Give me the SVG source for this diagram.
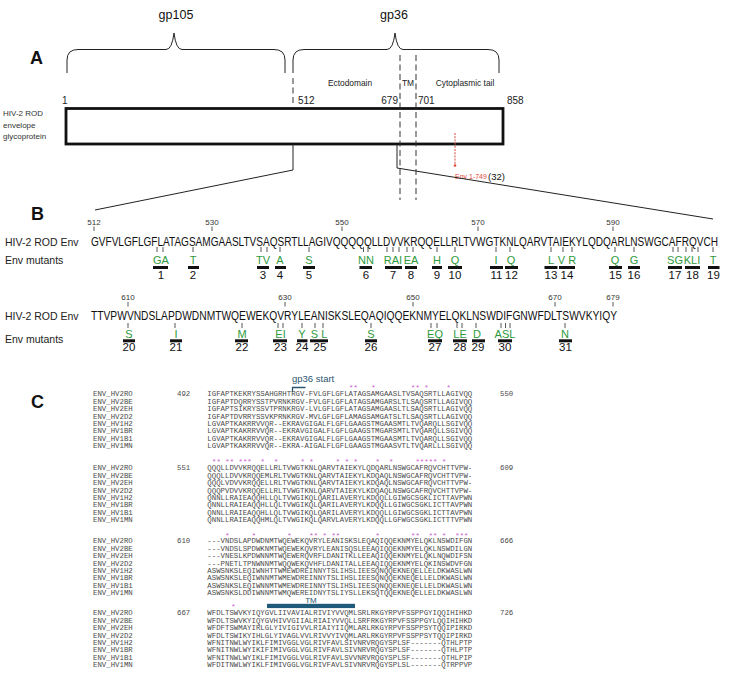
<svg xmlns="http://www.w3.org/2000/svg" width="731" height="675" viewBox="0 0 731 675">
<style>
.sans{font-family:"Liberation Sans",Arial,sans-serif}
.bold{font-family:"Liberation Sans",Arial,sans-serif;font-weight:bold;font-size:18px;fill:#111}
.gp{font-family:"Liberation Sans",Arial,sans-serif;font-size:12.5px;fill:#111}
.dom{font-family:"Liberation Sans",Arial,sans-serif;font-size:8.4px;fill:#222}
.pos{font-family:"Liberation Sans",Arial,sans-serif;font-size:10px;fill:#222}
.lbl{font-family:"Liberation Sans",Arial,sans-serif;font-size:8px;fill:#333}
.rowlbl{font-family:"Liberation Sans",Arial,sans-serif;font-size:10.5px;fill:#222}
.seqB{font-family:"Liberation Sans Narrow","Liberation Sans",Arial,sans-serif;font-size:12.5px;fill:#111}
.tnum{font-family:"Liberation Sans",Arial,sans-serif;font-size:8px;fill:#333;text-anchor:middle}
.mut{font-family:"Liberation Sans",Arial,sans-serif;font-size:11px;fill:#2f9a3c;text-anchor:middle}
.mnum{font-family:"Liberation Sans",Arial,sans-serif;font-size:11.5px;fill:#111;text-anchor:middle}
.tick{stroke:#444;stroke-width:0.9}
.bar{fill:#111}
.seq{font-family:"Liberation Mono","Courier New",monospace;font-size:7.37px;fill:#4a4a4a}
.ast{font-family:"Liberation Mono","Courier New",monospace;font-size:8px;fill:#cc5fcc}
.dash{stroke:#333;stroke-width:1;stroke-dasharray:6,3.5;fill:none}
.line{stroke:#222;stroke-width:1;fill:none}
</style>

<!-- PANEL A -->
<g id="panel-a">
  <text class="bold" x="30" y="64">A</text>
  <g id="gp105">
    <text class="gp" x="176" y="19" text-anchor="middle">gp105</text>
    <path class="line" stroke-width="1.3" d="M67 73 L67 60 Q67 49.5 78 49.5 L166 49.5 Q172 49.5 174 33 Q176 49.5 182 49.5 L274 49.5 Q285 49.5 285 60 L285 73"/>
  </g>
  <g id="gp36">
    <text class="gp" x="394" y="19" text-anchor="middle">gp36</text>
    <path class="line" stroke-width="1.3" d="M293 73 L293 60 Q293 49.5 304 49.5 L387 49.5 Q393 49.5 395 33 Q397 49.5 403 49.5 L488 49.5 Q499 49.5 499 60 L499 73"/>
  </g>
  <text class="dom" x="350" y="86" text-anchor="middle">Ectodomain</text>
  <text class="dom" x="408" y="86" text-anchor="middle">TM</text>
  <text class="dom" x="465" y="86" text-anchor="middle">Cytoplasmic tail</text>
  <line class="dash" x1="293" y1="78" x2="293" y2="106"/>
  <text class="pos" x="62" y="104">1</text>
  <text class="pos" x="298" y="104">512</text>
  <text class="pos" x="398" y="104" text-anchor="end">679</text>
  <text class="pos" x="418" y="104">701</text>
  <text class="pos" x="507" y="104">858</text>
  <g id="env-bar">
    <rect x="66" y="108.5" width="437" height="35.5" fill="#fff" stroke="#111" stroke-width="2.8"/>
  </g>
  <line class="dash" x1="400" y1="55" x2="400" y2="200"/>
  <line class="dash" x1="416" y1="55" x2="416" y2="200"/>
  <text class="lbl" x="3" y="116">HIV-2 ROD</text>
  <text class="lbl" x="3" y="127.5">envelope</text>
  <text class="lbl" x="3" y="139">glycoprotein</text>
  <g id="truncation">
    <line x1="455" y1="133" x2="455" y2="164" stroke="#e0483c" stroke-width="1" stroke-dasharray="2,1.2"/>
    <circle cx="455" cy="165.5" r="1.3" fill="#e0483c"/>
    <text class="sans" x="455" y="179" font-size="7px" fill="#e0483c">Env 1-749</text>
    <text class="sans" x="488" y="179.5" font-size="9.5px" fill="#111">(32)</text>
  </g>
</g>

<!-- CONNECTORS (zoom lines) -->
<g id="connectors">
  <polyline class="line" points="293,144 293,170 95,210"/>
  <polyline class="line" points="397,144 397,168 713,219"/>
</g>

<!-- PANEL B -->
<g id="panel-b">
  <text class="bold" x="31" y="220">B</text>
  <text class="rowlbl" x="5" y="245.5">HIV-2 ROD Env</text>
  <text class="rowlbl" x="5" y="264">Env mutants</text>
  <text class="rowlbl" x="5" y="320">HIV-2 ROD Env</text>
  <text class="rowlbl" x="5" y="343">Env mutants</text>

  <g id="seq-row1">
    <text class="tnum" x="94" y="224.5">512</text>
    <text class="tnum" x="212" y="224.5">530</text>
    <text class="tnum" x="342" y="224.5">550</text>
    <text class="tnum" x="478" y="224.5">570</text>
    <text class="tnum" x="613" y="224.5">590</text>
    <path class="tick" d="M94 226.5V231M212 226.5V231M342 226.5V231M478 226.5V231M613 226.5V231"/>
    <text class="seqB" x="91" y="245.7" textLength="627" lengthAdjust="spacingAndGlyphs">GVFVLGFLGFLATAGSAMGAASLTVSAQSRTLLAGIVQQQQQLLDVVKRQQELLRLTVWGTKNLQARVTAIEKYLQDQARLNSWGCAFRQVCH</text>
  </g>
  <g id="seq-row2">
    <text class="tnum" x="128" y="300.2">610</text>
    <text class="tnum" x="285" y="300.2">630</text>
    <text class="tnum" x="413" y="300.2">650</text>
    <text class="tnum" x="555" y="300.2">670</text>
    <text class="tnum" x="613" y="300.2">679</text>
    <path class="tick" d="M128 302V306.5M285 302V306.5M413 302V306.5M555 302V306.5M613 302V306.5"/>
    <text class="seqB" x="91" y="320" textLength="526" lengthAdjust="spacingAndGlyphs">TTVPWVNDSLAPDWDNMTWQEWEKQVRYLEANISKSLEQAQIQQEKNMYELQKLNSWDIFGNWFDLTSWVKYIQY</text>
  </g>

  <g id="mutants-row1">
    <path class="tick" d="M157 247V252M163 247V252M193 247V252M261 247V252M267 247V252M280 247V252M309 247V252M363.5 247V252M368 247V252M387 247V252M393 247V252M399 247V252M407 247V252M413 247V252M437 247V252M455 247V252M496 247V252M510 247V252M551 247V252M563 247V252M572 247V252M615 247V252M634 247V252M673 247V252M678 247V252M686 247V252M692 247V252M698 247V252M713 247V252"/>
    <g id="mut-1"><text class="mut" x="161" y="264.3">GA</text><rect class="bar" x="153" y="266" width="15" height="3"/><text class="mnum" x="161" y="279">1</text></g>
    <g id="mut-2"><text class="mut" x="193" y="264.3">T</text><rect class="bar" x="188" y="266" width="11" height="3"/><text class="mnum" x="193" y="279">2</text></g>
    <g id="mut-3"><text class="mut" x="263" y="264.3">TV</text><rect class="bar" x="257" y="266" width="12" height="3"/><text class="mnum" x="263" y="279">3</text></g>
    <g id="mut-4"><text class="mut" x="280" y="264.3">A</text><rect class="bar" x="275" y="266" width="11" height="3"/><text class="mnum" x="280" y="279">4</text></g>
    <g id="mut-5"><text class="mut" x="309" y="264.3">S</text><rect class="bar" x="303" y="266" width="12" height="3"/><text class="mnum" x="309" y="279">5</text></g>
    <g id="mut-6"><text class="mut" x="366" y="264.3">NN</text><rect class="bar" x="359.5" y="266" width="12.5" height="3"/><text class="mnum" x="366" y="279">6</text></g>
    <g id="mut-7"><text class="mut" x="393" y="264.3">RAI</text><rect class="bar" x="385" y="266" width="17" height="3"/><text class="mnum" x="393" y="279">7</text></g>
    <g id="mut-8"><text class="mut" x="411" y="264.3">EA</text><rect class="bar" x="405" y="266" width="12" height="3"/><text class="mnum" x="411" y="279">8</text></g>
    <g id="mut-9"><text class="mut" x="437" y="264.3">H</text><rect class="bar" x="432" y="266" width="10" height="3"/><text class="mnum" x="437" y="279">9</text></g>
    <g id="mut-10"><text class="mut" x="455" y="264.3">Q</text><rect class="bar" x="448" y="266" width="14" height="3"/><text class="mnum" x="455" y="279">10</text></g>
    <g id="mut-11"><text class="mut" x="496" y="264.3">I</text><rect class="bar" x="490" y="266" width="13" height="3"/><text class="mnum" x="496.5" y="279">11</text></g>
    <g id="mut-12"><text class="mut" x="511" y="264.3">Q</text><rect class="bar" x="505" y="266" width="13" height="3"/><text class="mnum" x="511.5" y="279">12</text></g>
    <g id="mut-13"><text class="mut" x="551" y="264.3">L</text><rect class="bar" x="544.5" y="266" width="13" height="3"/><text class="mnum" x="551" y="279">13</text></g>
    <g id="mut-14"><text class="mut" x="567" y="264.3">V R</text><rect class="bar" x="559" y="266" width="16" height="3"/><text class="mnum" x="567" y="279">14</text></g>
    <g id="mut-15"><text class="mut" x="615" y="264.3">Q</text><rect class="bar" x="609" y="266" width="13" height="3"/><text class="mnum" x="615.5" y="279">15</text></g>
    <g id="mut-16"><text class="mut" x="634" y="264.3">G</text><rect class="bar" x="628" y="266" width="12" height="3"/><text class="mnum" x="634" y="279">16</text></g>
    <g id="mut-17"><text class="mut" x="675" y="264.3">SG</text><rect class="bar" x="668" y="266" width="14" height="3"/><text class="mnum" x="675" y="279">17</text></g>
    <g id="mut-18"><text class="mut" x="692" y="264.3">KLI</text><rect class="bar" x="685" y="266" width="15" height="3"/><text class="mnum" x="692.5" y="279">18</text></g>
    <g id="mut-19"><text class="mut" x="713" y="264.3">T</text><rect class="bar" x="708" y="266" width="11.5" height="3"/><text class="mnum" x="713.5" y="279">19</text></g>
  </g>

  <g id="mutants-row2">
    <path class="tick" d="M128 323V328M175 323V328M242 323V328M278 323V328M283 323V328M302 323V328M315 323V328M323 323V328M371 323V328M431 323V328M437 323V328M457 323V328M462 323V328M476 323V328M501 323V328M505.5 323V328M510 323V328M565 323V328"/>
    <g id="mut-20"><text class="mut" x="129" y="338.3">S</text><rect class="bar" x="123" y="339.3" width="12" height="3"/><text class="mnum" x="129" y="351">20</text></g>
    <g id="mut-21"><text class="mut" x="176" y="338.3">I</text><rect class="bar" x="170" y="339.3" width="12" height="3"/><text class="mnum" x="176" y="351">21</text></g>
    <g id="mut-22"><text class="mut" x="242" y="338.3">M</text><rect class="bar" x="235" y="339.3" width="13" height="3"/><text class="mnum" x="242" y="351">22</text></g>
    <g id="mut-23"><text class="mut" x="280.5" y="338.3">EI</text><rect class="bar" x="273" y="339.3" width="14" height="3"/><text class="mnum" x="280.5" y="351">23</text></g>
    <g id="mut-24"><text class="mut" x="302" y="338.3">Y</text><rect class="bar" x="297" y="339.3" width="10.5" height="3"/><text class="mnum" x="302" y="351">24</text></g>
    <g id="mut-25"><text class="mut" x="319" y="338.3">S L</text><rect class="bar" x="310" y="339.3" width="18" height="3"/><text class="mnum" x="320" y="351">25</text></g>
    <g id="mut-26"><text class="mut" x="371" y="338.3">S</text><rect class="bar" x="365" y="339.3" width="12" height="3"/><text class="mnum" x="371" y="351">26</text></g>
    <g id="mut-27"><text class="mut" x="435" y="338.3">EQ</text><rect class="bar" x="428" y="339.3" width="14" height="3"/><text class="mnum" x="435" y="351">27</text></g>
    <g id="mut-28"><text class="mut" x="460" y="338.3">LE</text><rect class="bar" x="453" y="339.3" width="14" height="3"/><text class="mnum" x="460" y="351">28</text></g>
    <g id="mut-29"><text class="mut" x="477" y="338.3">D</text><rect class="bar" x="472" y="339.3" width="13" height="3"/><text class="mnum" x="478" y="351">29</text></g>
    <g id="mut-30"><text class="mut" x="505" y="338.3">ASL</text><rect class="bar" x="498" y="339.3" width="14" height="3"/><text class="mnum" x="505" y="351">30</text></g>
    <g id="mut-31"><text class="mut" x="565" y="338.3">N</text><rect class="bar" x="559" y="339.3" width="13" height="3"/><text class="mnum" x="565.5" y="351">31</text></g>
  </g>
</g>

<!-- PANEL C -->
<g id="panel-c">
  <text class="bold" x="31" y="408">C</text>
  <g id="gp36-start">
    <text class="sans" x="292" y="382" font-size="9.5px" fill="#2b5673">gp36 start</text>
    <path d="M292.5 392V387.5H305.5" stroke="#2b5673" stroke-width="1.3" fill="none"/>
  </g>

  <g id="block-1">
    <text class="ast" x="348.83 353.25 370.94 410.74 415.17 424.01 446.13" y="389.5">*******</text>
    <text class="seq" x="93" y="396.2">ENV_HV2RO</text><text class="seq" x="177" y="396.2">492</text><text class="seq" x="500" y="396.2">550</text>
    <text class="seq" x="93" y="403.65">ENV_HV2BE</text>
    <text class="seq" x="93" y="411.1">ENV_HV2EH</text>
    <text class="seq" x="93" y="418.55">ENV_HV2D2</text>
    <text class="seq" x="93" y="426">ENV_HV1H2</text>
    <text class="seq" x="93" y="433.45">ENV_HV1BR</text>
    <text class="seq" x="93" y="440.9">ENV_HV1B1</text>
    <text class="seq" x="93" y="448.35">ENV_HV1MN</text>
    <text class="seq" x="207.3" y="396.2">IGFAPTKEKRYSSAHGRHTRGV-FVLGFLGFLATAGSAMGAASLTVSAQSRTLLAGIVQQ</text>
    <text class="seq" x="207.3" y="403.65">IGFAPTDQRRYSSTPVRNKRGV-FVLGFLGFLATAGSAMGARSLTLSAQSRTLLAGIVQQ</text>
    <text class="seq" x="207.3" y="411.1">IGFAPTSIKRYSSVTPRNKRGV-LVLGFLGFLATAGSAMGAASLTLSAQSRTLLAGIVQQ</text>
    <text class="seq" x="207.3" y="418.55">IGFAPTDVRRYSSVKPRNKRGV-MVLGFLGFLAMAGSAMGATSLTLSAQSRTLLAGIVQQ</text>
    <text class="seq" x="207.3" y="426">LGVAPTKAKRRVVQR--EKRAVGIGALFLGFLGAAGSTMGAASMTLTVQARQLLSGIVQQ</text>
    <text class="seq" x="207.3" y="433.45">LGVAPTKAKRRVVQR--EKRAVGIGALFLGFLGAAGSTMGARSMTLTVQARQLLSGIVQQ</text>
    <text class="seq" x="207.3" y="440.9">LGVAPTKAKRRVVQR--EKRAVGIGALFLGFLGAAGSTMGAASMTLTVQARQLLSGIVQQ</text>
    <text class="seq" x="207.3" y="448.35">LGVAPTKAKRRVVQR--EKRA-AIGALFLGFLGAAGSTMGAASVTLTVQARLLLSGIVQQ</text>
  </g>

  <g id="block-2">
    <text class="ast" x="211.72 216.15 224.99 229.41 238.26 242.68 247.10 260.37 273.64 300.18 309.02 335.56 344.40 353.25 375.36 388.63 415.17 419.59 424.01 428.44 432.86 441.70" y="463.5">**********************</text>
    <text class="seq" x="93" y="470.2">ENV_HV2RO</text><text class="seq" x="177" y="470.2">551</text><text class="seq" x="500" y="470.2">609</text>
    <text class="seq" x="93" y="477.65">ENV_HV2BE</text>
    <text class="seq" x="93" y="485.1">ENV_HV2EH</text>
    <text class="seq" x="93" y="492.55">ENV_HV2D2</text>
    <text class="seq" x="93" y="500">ENV_HV1H2</text>
    <text class="seq" x="93" y="507.45">ENV_HV1BR</text>
    <text class="seq" x="93" y="514.9">ENV_HV1B1</text>
    <text class="seq" x="93" y="522.35">ENV_HV1MN</text>
    <text class="seq" x="207.3" y="470.2">QQQLLDVVKRQQELLRLTVWGTKNLQARVTAIEKYLQDQARLNSWGCAFRQVCHTTVPW-</text>
    <text class="seq" x="207.3" y="477.65">QQQLLDVVKRQQEMLRLTVWGTKNLQARVTAIEKYLKDQAQLNSWGCAFRQVCHTTVPW-</text>
    <text class="seq" x="207.3" y="485.1">QQQLVDVVKRQQELLRLTVWGTKNLQARVTAIEKYLKDQAQLNSWGCAFRQVCHTTVPW-</text>
    <text class="seq" x="207.3" y="492.55">QQQPVDVVKRQQELLRLTVWGTKNLQARVTAIEKYLKDQAQLNSWGCAFRQVCHTTVPW-</text>
    <text class="seq" x="207.3" y="500">QNNLLRAIEAQQHLLQLTVWGIKQLQARILAVERYLKDQQLLGIWGCSGKLICTTAVPWN</text>
    <text class="seq" x="207.3" y="507.45">QNNLLRAIEAQQHLLQLTVWGIKQLQARILAVERYLKDQQLLGIWGCSGKLICTTAVPWN</text>
    <text class="seq" x="207.3" y="514.9">QNNLLRAIEAQQHLLQLTVWGIKQLQARILAVERYLKDQQLLGIWGCSGKLICTTAVPWN</text>
    <text class="seq" x="207.3" y="522.35">QNNLLRAIEAQQHMLQLTVWGIKQLQARVLAVERYLKDQQLLGFWGCSGKLICTTTVPWN</text>
  </g>

  <g id="block-3">
    <text class="ast" x="224.99 251.53 286.91 309.02 313.44 322.29 331.14 335.56 375.36 410.74 415.17 428.44 432.86 441.70 454.97 459.39 463.82" y="537.5">*****************</text>
    <text class="seq" x="93" y="543.2">ENV_HV2RO</text><text class="seq" x="177" y="543.2">610</text><text class="seq" x="500" y="543.2">666</text>
    <text class="seq" x="93" y="550.65">ENV_HV2BE</text>
    <text class="seq" x="93" y="558.1">ENV_HV2EH</text>
    <text class="seq" x="93" y="565.55">ENV_HV2D2</text>
    <text class="seq" x="93" y="573">ENV_HV1H2</text>
    <text class="seq" x="93" y="580.45">ENV_HV1BR</text>
    <text class="seq" x="93" y="587.9">ENV_HV1B1</text>
    <text class="seq" x="93" y="595.35">ENV_HV1MN</text>
    <text class="seq" x="207.3" y="543.2">---VNDSLAPDWDNMTWQEWEKQVRYLEANISKSLEQAQIQQEKNMYELQKLNSWDIFGN</text>
    <text class="seq" x="207.3" y="550.65">---VNDSLSPDWKNMTWQEWEKQVRYLEANISQSLEEAQIQQEKNMYELQKLNSWDILGN</text>
    <text class="seq" x="207.3" y="558.1">---VNESLKPDWNNMTWQEWERQVRFLDANITKLLEEAQIQQEKNMYELQKLNQWDIFSN</text>
    <text class="seq" x="207.3" y="565.55">---PNETLTPNWNNMTWQQWEKQVHFLDANITALLEEAQIQQEKNMYELQKINSWDVFGN</text>
    <text class="seq" x="207.3" y="573">ASWSNKSLEQIWNHTTWMEWDREINNYTSLIHSLIEESQNQQEKNEQELLELDKWASLWN</text>
    <text class="seq" x="207.3" y="580.45">ASWSNKSLEQIWNNMTWMEWDREINNYTSLIHSLIEESQNQQEKNEQELLELDKWASLWN</text>
    <text class="seq" x="207.3" y="587.9">ASWSNKSLEQIWNNMTWMEWDREINNYTSLIHSLIEESQNQQEKNEQELLELDKWASLWN</text>
    <text class="seq" x="207.3" y="595.35">ASWSNKSLDDIWNNMTWMQWEREIDNYTSLIYSLLEKSQTQQEKNEQELLELDKWASLWN</text>
  </g>

  <g id="block-4">
    <text class="sans" x="311" y="602.5" font-size="8px" fill="#2b5673" text-anchor="middle">TM</text>
    <rect x="267" y="603.8" width="88" height="4.3" fill="#1f5a7a"/>
    <text class="ast" x="231" y="609">*</text>
    <text class="seq" x="93" y="615.2">ENV_HV2RO</text><text class="seq" x="177" y="615.2">667</text><text class="seq" x="500" y="615.2">726</text>
    <text class="seq" x="93" y="622.65">ENV_HV2BE</text>
    <text class="seq" x="93" y="630.1">ENV_HV2EH</text>
    <text class="seq" x="93" y="637.55">ENV_HV2D2</text>
    <text class="seq" x="93" y="645">ENV_HV1H2</text>
    <text class="seq" x="93" y="652.45">ENV_HV1BR</text>
    <text class="seq" x="93" y="659.9">ENV_HV1B1</text>
    <text class="seq" x="93" y="667.35">ENV_HV1MN</text>
    <text class="seq" x="207.3" y="615.2">WFDLTSWVKYIQYGVLIIVAVIALRIVIYVVQMLSRLRKGYRPVFSSPPGYIQQIHIHKD</text>
    <text class="seq" x="207.3" y="622.65">WFDLTSWVKYIQYGVHIVVGIIALRIAIYVVQLLSRFRKGYRPVFSSPPGYLQQIHIHKD</text>
    <text class="seq" x="207.3" y="630.1">WFDFTSWMAYIRLGLYIVIGIVVLRIAIYIIQMLARLRKGYRPVFSSPPSYTQQIPIRKD</text>
    <text class="seq" x="207.3" y="637.55">WFDLTSWIKYIHLGLYIVAGLVVLRIVVYIVQMLARLRKGYRPVFSSPPSYTQQIPIRKD</text>
    <text class="seq" x="207.3" y="645">WFNITNWLWYIKLFIMIVGGLVGLRIVFAVLSIVNRVRQGYSPLSF-------QTHLPTP</text>
    <text class="seq" x="207.3" y="652.45">WFNITNWLWYIKIFIMIVGGLVGLRIVFAVLSIVNRVRQGYSPLSF-------QTHLPTP</text>
    <text class="seq" x="207.3" y="659.9">WFNITNWLWYIKLFIMIVGGLVGLRIVFAVLSVVNRVRQGYSPLSF-------QTHLPIP</text>
    <text class="seq" x="207.3" y="667.35">WFDITNWLWYIKLFIMIVGGLVGLRIVFAVLSIVNRVRQGYSPLSL-------QTRPPVP</text>
  </g>
</g>
</svg>
